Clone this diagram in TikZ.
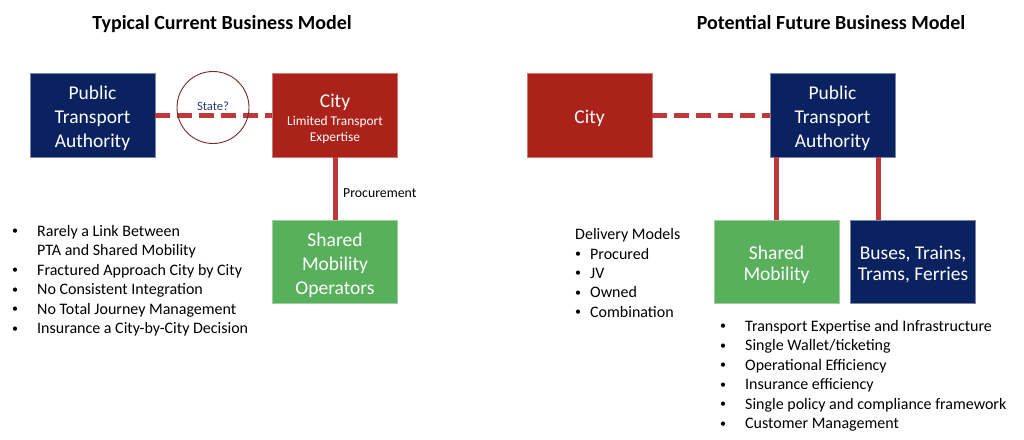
\documentclass[tikz,border=0pt]{standalone}
\usepackage{fontspec}
\setmainfont{Carlito}
\definecolor{navy}{RGB}{11,34,96}
\definecolor{cityred}{RGB}{171,34,26}
\definecolor{smgreen}{RGB}{88,176,92}
\definecolor{linered}{RGB}{192,57,58}
\definecolor{circlebrown}{RGB}{120,40,40}
\definecolor{statetext}{RGB}{40,60,120}
\tikzset{
  box/.style={rectangle, minimum width=125pt, minimum height=84pt, inner sep=0pt, line width=0.6pt},
  navybox/.style={box, fill=navy, draw=navy!55!white},
  redbox/.style={box, fill=cityred, draw=cityred!60!white},
  greenbox/.style={box, fill=smgreen, draw=smgreen!60!white, minimum height=83pt},
  boxtext/.style={text=white, align=center, inner sep=0pt, font=\fontsize{19.5}{24}\selectfont},
  boxtexttwo/.style={boxtext, font=\fontsize{19.5}{20.6}\selectfont},
  dashlink/.style={linered, line width=5pt, dash pattern=on 15pt off 7pt},
  solidlink/.style={linered, line width=5pt},
  title/.style={font=\fontsize{20}{24}\selectfont\bfseries, anchor=base},
  listtext/.style={font=\fontsize{16}{19}\selectfont, anchor=base west, inner sep=0pt},
  bullet/.style={font=\fontsize{12}{14}\selectfont, anchor=base west, inner sep=0pt, yshift=1.5pt},
}
\begin{document}
\begin{tikzpicture}[x=1pt,y=-1pt]
\useasboundingbox (0,0) rectangle (1024,439);
% titles
\node[title] (t1) at (222,29) {Typical Current Business Model};
\node[title] (t2) at (831,29) {Potential Future Business Model};
% left side
\node[navybox] (ptaL) at (92.5,115) {};
\node[boxtext] (ptaLt) at (92.5,118) {Public\\Transport\\Authority};
\node[redbox] (cityL) at (335,115) {};
\node[boxtext, anchor=base] (cityLt) at (335,107.5) {City};
\node[text=white, font=\fontsize{13.4}{15.3}\selectfont, align=center, anchor=base, inner sep=0pt] (cityLs) at (335,141) {Limited Transport\\Expertise};
\node[greenbox] (smo) at (335,261.5) {};
\node[boxtext] (smot) at (335,265) {Shared\\Mobility\\Operators};
\draw[dashlink] (ptaL.east |- 0,115) -- (cityL.west |- 0,115);
\node[circle, draw=circlebrown, line width=0.9pt, minimum size=72pt, inner sep=0pt] (state) at (213,107.5) {};
\node[text=statetext, font=\fontsize{12.6}{14}\selectfont, inner sep=0pt] (statet) at (213,106.5) {State?};
\draw[solidlink] (cityL.south) -- (smo.north);
\node[font=\fontsize{13.8}{16}\selectfont, anchor=base west, inner sep=0pt] (proc) at (343,197) {Procurement};
% left bullets
\foreach \y/\t [count=\i] in {236/{Rarely a Link Between},275/{Fractured Approach City by City},294.5/{No Consistent Integration},314/{No Total Journey Management},333.5/{Insurance a City-by-City Decision}}{
  \node[bullet] (lb\i) at (12,\y) {•};
  \node[listtext] (lt\i) at (37,\y) {\t};
}
\node[listtext] (lt1b) at (37,255.5) {PTA and Shared Mobility};
% right side
\node[redbox] (cityR) at (589.5,115) {};
\node[boxtext] (cityRt) at (589.5,118.5) {City};
\node[navybox] (ptaR) at (832.5,115) {};
\node[boxtext] (ptaRt) at (832.5,118) {Public\\Transport\\Authority};
\node[greenbox] (sm) at (776.5,261.5) {};
\node[boxtexttwo] (smt) at (776.5,264.5) {Shared\\Mobility};
\node[navybox, minimum height=83pt] (buses) at (913,261.5) {};
\node[boxtexttwo] (busest) at (913,264.5) {Buses, Trains,\\Trams, Ferries};
\draw[dashlink] (cityR.east) -- (ptaR.west);
\draw[solidlink] (ptaR.south -| sm.north) -- (sm.north);
\coordinate (bTop) at (878,157);
\draw[solidlink] (bTop) -- (bTop |- buses.north);
% delivery models
\node[listtext] (dm) at (575,239) {Delivery Models};
\foreach \y/\t [count=\i] in {259/Procured,278/JV,297.5/Owned,317/Combination}{
  \node[bullet] (db\i) at (575,\y) {•};
  \node[listtext] (dt\i) at (590,\y) {\t};
}
% right bullets
\foreach \y/\t [count=\i] in {331/{Transport Expertise and Infrastructure},350.5/{Single Wallet/ticketing},370/{Operational Efficiency},389.5/{Insurance efficiency},409/{Single policy and compliance framework},428.5/{Customer Management}}{
  \node[bullet] (rb\i) at (720,\y) {•};
  \node[listtext] (rt\i) at (745,\y) {\t};
}
\end{tikzpicture}
\end{document}
